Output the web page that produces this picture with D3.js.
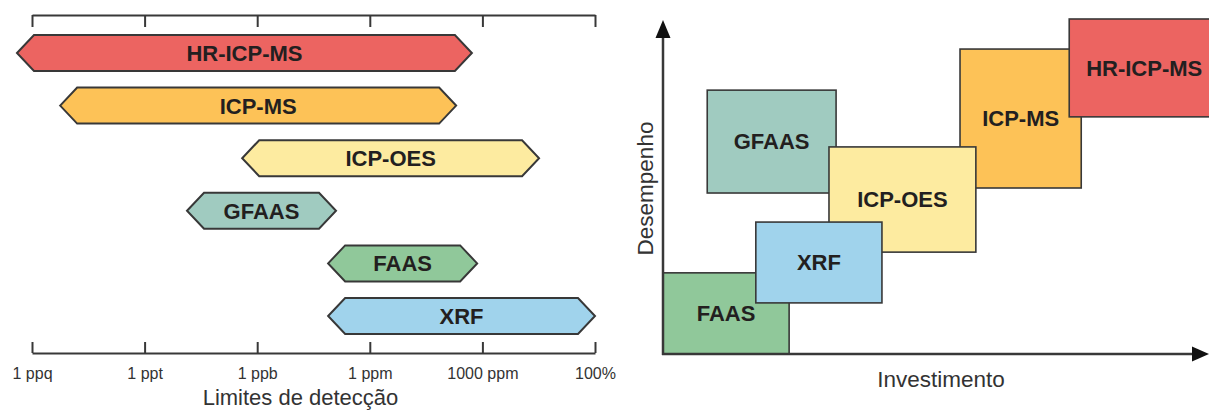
<!DOCTYPE html>
<html><head><meta charset="utf-8">
<script src="https://cdn.jsdelivr.net/npm/d3@7"></script>
<style>body{margin:0;background:#fff} svg{display:block}</style>
</head><body>
<svg id="c" width="1209" height="412"></svg>
<script>
// Left panel: detection limit ranges (log10 of mass fraction)
const techniques = ["HR-ICP-MS","ICP-MS","ICP-OES","GFAAS","FAAS","XRF"];
const colors = ["#ec6461","#fdc257","#fdeba0","#a0cbc0","#90c89a","#a0d3ec"];
const lodLow  = [-15.4,-14.25,-9.4,-10.87,-7.11,-7.11];
const lodHigh = [-3.28,-3.7,-1.49,-6.9,-3.14,0];
const tickValues = [-15,-12,-9,-6,-3,0];
const tickLabels = ["1 ppq","1 ppt","1 ppb","1 ppm","1000 ppm","100%"];

// Right panel: relative investment vs performance
const boxTech = ["GFAAS","ICP-MS","HR-ICP-MS","FAAS","ICP-OES","XRF"];
const invest0 = [8.1,54.4,74.4,0,30.4,17.0];
const invest1 = [31.7,76.6,102,23.1,57.3,40.1];
const perf0 = [48.2,49.7,71.0,0,30.5,15.3];
const perf1 = [79.0,91.3,100.3,24.3,62.0,39.5];

const FONT = "'Liberation Sans', Arial, Helvetica, sans-serif";
const INK = "#231f20", LINE = "#383838";
const colorOf = t => colors[techniques.indexOf(t)];

const svg = d3.select("#c").style("font-family", FONT);

// ---------- Left panel ----------
const x = d3.scaleLinear().domain([-15,0]).range([32,595]);
const yRow = d3.scalePoint().domain(techniques).range([53,316]);
const barH = 36, tip = 17;

const topAxis = svg.append("g").attr("transform","translate(0,15)")
  .call(d3.axisTop(x).tickValues(tickValues).tickSizeInner(-12).tickSizeOuter(0).tickFormat(""));
const botAxis = svg.append("g").attr("transform","translate(0,353)")
  .call(d3.axisBottom(x).tickValues(tickValues).tickSizeInner(-11).tickSizeOuter(0)
        .tickPadding(14.5).tickFormat((d,i)=>tickLabels[i]));
[topAxis,botAxis].forEach(g=>{
  g.attr("font-size",16).attr("font-family",FONT);
  g.select(".domain").attr("stroke",LINE).attr("stroke-width",2);
  g.selectAll(".tick line").attr("stroke",LINE).attr("stroke-width",2);
  g.selectAll(".tick text").attr("fill","#333").style("font-size","16px").style("font-family",FONT);
});

const bars = svg.append("g").selectAll("g").data(techniques).join("g");
bars.append("path")
  .attr("d",(t,i)=>{
    const x0=x(lodLow[i]), x1=x(lodHigh[i]), c=yRow(t), h=barH/2;
    return `M${x0},${c}L${x0+tip},${c-h}L${x1-tip},${c-h}L${x1},${c}L${x1-tip},${c+h}L${x0+tip},${c+h}Z`;
  })
  .attr("fill",(t,i)=>colors[i]).attr("stroke",LINE).attr("stroke-width",2).attr("stroke-linejoin","miter");
bars.append("text")
  .attr("x",(t,i)=>(x(lodLow[i])+x(lodHigh[i]))/2)
  .attr("y",t=>yRow(t)+7.9)
  .attr("text-anchor","middle").attr("fill",INK)
  .style("font-size","22px").style("font-weight","bold").text(t=>t);

svg.append("text").attr("x",300.5).attr("y",405).attr("text-anchor","middle")
  .attr("fill","#333").style("font-size","22px").text("Limites de detecção");

// ---------- Right panel ----------
const xs = d3.scaleLinear().domain([0,100]).range([663,1209]);
const ys = d3.scaleLinear().domain([0,100]).range([354,20]);

const boxes = svg.append("g").selectAll("g").data(boxTech).join("g");
boxes.append("rect")
  .attr("x",(t,i)=>xs(invest0[i])).attr("y",(t,i)=>ys(perf1[i]))
  .attr("width",(t,i)=>xs(invest1[i])-xs(invest0[i]))
  .attr("height",(t,i)=>ys(perf0[i])-ys(perf1[i]))
  .attr("fill",t=>colorOf(t)).attr("stroke",LINE).attr("stroke-width",1.6);
boxes.append("text")
  .attr("x",(t,i)=> t==="HR-ICP-MS" ? xs(invest0[i])+75 : (xs(invest0[i])+xs(invest1[i]))/2)
  .attr("y",(t,i)=>(ys(perf0[i])+ys(perf1[i]))/2+7.9)
  .attr("text-anchor","middle").attr("fill",INK)
  .style("font-size","22px").style("font-weight","bold").text(t=>t);

// axes arrows
const ax = svg.append("g");
ax.append("line").attr("x1",xs(0)).attr("x2",xs(0)).attr("y1",ys(0)+1).attr("y2",ys(100)+14)
  .attr("stroke",LINE).attr("stroke-width",2.5);
ax.append("path").attr("d",`M${xs(0)},${ys(100)}L${xs(0)-7.5},${ys(100)+18}L${xs(0)+7.5},${ys(100)+18}Z`).attr("fill","#111");
ax.append("line").attr("x1",xs(0)-1).attr("x2",xs(100)-14).attr("y1",ys(0)).attr("y2",ys(0))
  .attr("stroke",LINE).attr("stroke-width",2.5);
ax.append("path").attr("d",`M${xs(100)},${ys(0)}L${xs(100)-17},${ys(0)-7.5}L${xs(100)-17},${ys(0)+7.5}Z`).attr("fill","#111");

svg.append("text").attr("x",941).attr("y",387).attr("text-anchor","middle")
  .attr("fill","#333").style("font-size","22.5px").text("Investimento");
svg.append("text").attr("transform","translate(653,188.5) rotate(-90)").attr("text-anchor","middle")
  .attr("fill","#333").style("font-size","22.5px").text("Desempenho");
</script>
</body></html>
